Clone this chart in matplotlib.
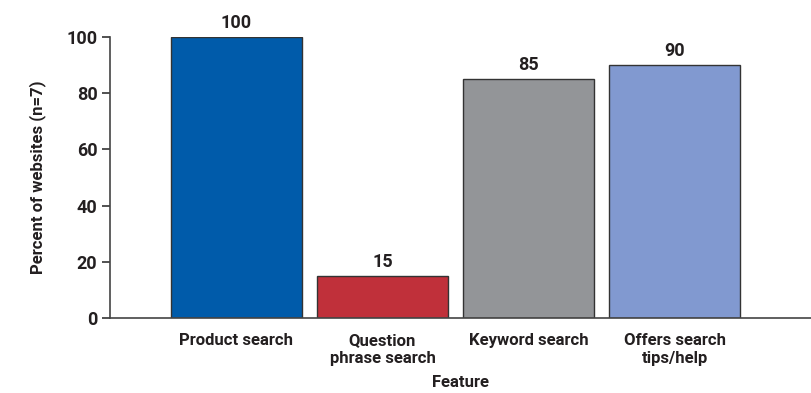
import matplotlib
matplotlib.use("Agg")
import matplotlib.pyplot as plt

categories = ["Product search", "Question\nphrase search", "Keyword search", "Offers search\ntips/help"]
values = [100, 15, 85, 90]
colors = ["#005BAA", "#C0303A", "#939598", "#8199D0"]
yticks = [0, 20, 40, 60, 80, 100]

plt.rcParams["font.family"] = ["Roboto", "DejaVu Sans"]
plt.rcParams["font.weight"] = "bold"
plt.rcParams["axes.labelweight"] = "bold"

ink = "#231f20"
W, H = 812, 393
fig = plt.figure(figsize=(W / 100, H / 100), dpi=100)
ax = fig.add_axes([110 / W, 75 / H, 1 - 110 / W, (318 - 37) / H])

x = list(range(len(categories)))
ax.bar(x, values, width=0.9, color=colors, edgecolor="#333333", linewidth=1.0, zorder=2)
for xi, v in zip(x, values):
    ax.text(xi, v + 1.8, str(v), ha="center", va="bottom", fontsize=13, color=ink, fontweight="bold")

ax.set_xlim(-0.865, 3.94)
ax.set_ylim(0, 100)
ax.set_yticks(yticks)
ax.set_yticklabels([str(t) for t in yticks], fontsize=13, color=ink, fontweight="bold")
ax.set_xticks(x)
ax.set_xticklabels(categories, fontsize=12, color=ink, fontweight="bold", linespacing=1.2)
ax.tick_params(axis="x", length=0, pad=11)
ax.tick_params(axis="y", length=6, width=1.2, color="#333333", pad=3)

for s in ["top", "right"]:
    ax.spines[s].set_visible(False)
for s in ["left", "bottom"]:
    ax.spines[s].set_color("#444444")
    ax.spines[s].set_linewidth(1.2)

ax.set_ylabel("Percent of websites (n=7)", fontsize=12, color=ink, fontweight="bold", labelpad=15)
ax.set_xlabel("Feature", fontsize=12, color=ink, fontweight="bold", labelpad=7)

fig.savefig("out.png", dpi=100)
